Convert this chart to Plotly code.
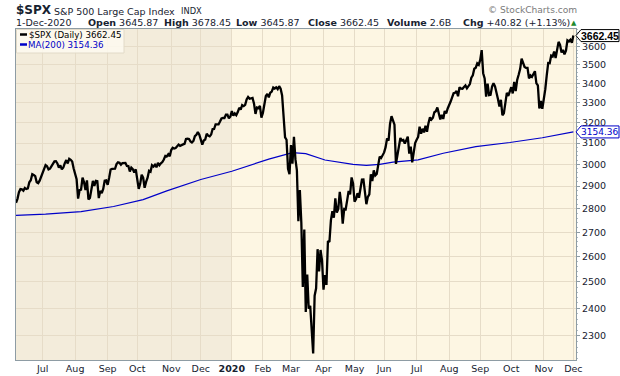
import math
import plotly.graph_objects as go

# ---------------- DATA ----------------
# $SPX daily closes, per month: (day, close)
spx_2019_06 = [(5,2826.15),(6,2843.49),(7,2873.34),(10,2886.73),(11,2885.72),(12,2879.84),(13,2891.64),(14,2886.98),(17,2889.67),(18,2917.75),(19,2926.46),(20,2954.18),(21,2950.46),(24,2945.35),(25,2917.38),(26,2913.78),(27,2924.92),(28,2941.76)]
spx_2019_07 = [(1,2964.33),(2,2973.01),(3,2995.82),(5,2990.41),(8,2975.95),(9,2979.63),(10,2993.07),(11,2999.91),(12,3013.77),(15,3014.30),(16,3004.04),(17,2984.42),(18,2995.11),(19,2976.61),(22,2985.03),(23,3005.47),(24,3019.56),(25,3003.67),(26,3025.86),(29,3020.97),(30,3013.18),(31,2980.38)]
spx_2019_08 = [(1,2953.56),(2,2932.05),(5,2844.74),(6,2881.77),(7,2883.98),(8,2938.09),(9,2918.65),(12,2882.70),(13,2926.32),(14,2840.60),(15,2847.60),(16,2888.68),(19,2923.65),(20,2900.51),(21,2924.43),(22,2922.95),(23,2847.11),(26,2878.38),(27,2869.16),(28,2887.94),(29,2924.58),(30,2926.46)]
spx_2019_09 = [(3,2906.27),(4,2937.78),(5,2976.00),(6,2978.71),(9,2978.43),(10,2979.39),(11,3000.93),(12,3009.57),(13,3007.39),(16,2997.96),(17,3005.70),(18,3006.73),(19,3006.79),(20,2992.07),(23,2991.78),(24,2966.60),(25,2984.87),(26,2977.62),(27,2961.79),(30,2976.74)]
spx_2019_10 = [(1,2940.25),(2,2887.61),(3,2910.63),(4,2952.01),(7,2938.79),(8,2893.06),(9,2919.40),(10,2938.13),(11,2970.27),(14,2966.15),(15,2995.68),(16,2989.69),(17,2997.95),(18,2986.20),(21,3006.72),(22,2995.99),(23,3004.52),(24,3010.29),(25,3022.55),(28,3039.42),(29,3036.89),(30,3046.77),(31,3037.56)]
spx_2019_11 = [(1,3066.91),(4,3078.27),(5,3074.62),(6,3076.78),(7,3085.18),(8,3093.08),(11,3087.01),(12,3091.84),(13,3094.04),(14,3096.63),(15,3120.46),(18,3122.03),(19,3120.18),(20,3108.46),(21,3103.54),(22,3110.29),(25,3133.64),(26,3140.52),(27,3153.63),(29,3140.98)]
spx_2019_12 = [(2,3113.87),(3,3093.20),(4,3112.76),(5,3117.43),(6,3145.91),(9,3135.96),(10,3132.52),(11,3141.63),(12,3168.57),(13,3168.80),(16,3191.45),(17,3192.52),(18,3191.14),(19,3205.37),(20,3221.22),(23,3224.01),(24,3223.38),(26,3239.91),(27,3240.02),(30,3221.29),(31,3230.78)]
spx_2020_01 = [(2,3257.85),(3,3234.85),(6,3246.28),(7,3237.18),(8,3253.05),(9,3274.70),(10,3265.35),(13,3288.13),(14,3283.15),(15,3289.29),(16,3316.81),(17,3329.62),(21,3320.79),(22,3321.75),(23,3325.54),(24,3295.47),(27,3243.63),(28,3276.24),(29,3273.40),(30,3283.66),(31,3225.52)]
spx_2020_02 = [(3,3248.92),(4,3297.59),(5,3334.69),(6,3345.78),(7,3327.71),(10,3352.09),(11,3357.75),(12,3379.45),(13,3373.94),(14,3380.16),(18,3370.29),(19,3386.15),(20,3373.23),(21,3337.75),(24,3225.89),(25,3128.21),(26,3116.39),(27,2978.76),(28,2954.22)]
spx_2020_03 = [(2,3090.23),(3,3003.37),(4,3130.12),(5,3023.94),(6,2972.37),(9,2746.56),(10,2882.23),(11,2741.38),(12,2480.64),(13,2711.02),(16,2386.13),(17,2529.19),(18,2398.10),(19,2409.39),(20,2304.92),(23,2237.40),(24,2447.33),(25,2475.56),(26,2630.07),(27,2541.47),(30,2626.65),(31,2584.59)]
spx_2020_04 = [(1,2470.50),(2,2526.90),(3,2488.65),(6,2663.68),(7,2659.41),(8,2749.98),(9,2789.82),(13,2761.63),(14,2846.06),(15,2783.36),(16,2799.55),(17,2874.56),(20,2823.16),(21,2736.56),(22,2799.31),(23,2797.80),(24,2836.74),(27,2878.48),(28,2863.39),(29,2939.51),(30,2912.43)]
spx_2020_05 = [(1,2830.71),(4,2842.74),(5,2868.44),(6,2848.42),(7,2881.19),(8,2929.80),(11,2930.32),(12,2870.12),(13,2820.00),(14,2852.50),(15,2863.70),(18,2953.91),(19,2922.94),(20,2971.61),(21,2948.51),(22,2955.45),(26,2991.77),(27,3036.13),(28,3029.73),(29,3044.31)]
spx_2020_06 = [(1,3055.73),(2,3080.82),(3,3122.87),(4,3112.35),(5,3193.93),(8,3232.39),(9,3207.18),(10,3190.14),(11,3002.10),(12,3041.31),(15,3066.59),(16,3124.74),(17,3113.49),(18,3115.34),(19,3097.74),(22,3117.86),(23,3131.29),(24,3050.33),(25,3083.76),(26,3009.05),(29,3053.24),(30,3100.29)]
spx_2020_07 = [(1,3115.86),(2,3130.01),(6,3179.72),(7,3145.32),(8,3169.94),(9,3152.05),(10,3185.04),(13,3155.22),(14,3197.52),(15,3226.56),(16,3215.57),(17,3224.73),(20,3251.84),(21,3257.30),(22,3276.02),(23,3235.66),(24,3215.63),(27,3239.41),(28,3218.44),(29,3258.44),(30,3246.22),(31,3271.12)]
spx_2020_08 = [(3,3294.61),(4,3306.51),(5,3327.77),(6,3349.16),(7,3351.28),(10,3360.47),(11,3333.69),(12,3380.35),(13,3373.43),(14,3372.85),(17,3381.99),(18,3389.78),(19,3374.85),(20,3385.51),(21,3397.16),(24,3431.28),(25,3443.62),(26,3478.73),(27,3484.55),(28,3508.01),(31,3500.31)]
spx_2020_09 = [(1,3526.65),(2,3580.84),(3,3455.06),(4,3426.96),(8,3331.84),(9,3398.96),(10,3339.19),(11,3340.97),(14,3383.54),(15,3401.20),(16,3385.49),(17,3357.01),(18,3319.47),(21,3281.06),(22,3315.57),(23,3236.92),(24,3246.59),(25,3298.46),(28,3351.60),(29,3335.47),(30,3363.00)]
spx_2020_10 = [(1,3380.80),(2,3348.42),(5,3408.60),(6,3360.97),(7,3419.44),(8,3446.83),(9,3477.14),(12,3534.22),(13,3511.93),(14,3488.67),(15,3483.34),(16,3483.81),(19,3426.92),(20,3443.12),(21,3435.56),(22,3453.49),(23,3465.39),(26,3400.97),(27,3390.68),(28,3271.03),(29,3310.11),(30,3269.96)]
spx_2020_11 = [(2,3310.24),(3,3369.16),(4,3443.44),(5,3510.45),(6,3509.44),(9,3550.50),(10,3545.53),(11,3572.66),(12,3537.01),(13,3585.15),(16,3626.91),(17,3609.53),(18,3567.79),(19,3581.87),(20,3557.54),(23,3577.59),(24,3635.41),(25,3629.65),(27,3638.35),(30,3621.63)]
spx_2020_12 = [(1,3662.45)]

# 200-day moving average
ma_dates = ["2019-06-05","2019-07-03","2019-08-07","2019-09-09","2019-10-07","2019-10-29","2019-12-02","2020-01-02",
            "2020-02-07","2020-03-03","2020-03-16","2020-04-02","2020-04-30","2020-05-13","2020-05-27","2020-06-09",
            "2020-07-02","2020-07-28","2020-08-27","2020-09-30","2020-10-30","2020-12-01"]
ma_values = [2772, 2777, 2788, 2810, 2840, 2879, 2930, 2968,
             3024, 3055, 3050, 3020, 3000, 2995, 3000, 3010,
             3021, 3052, 3083, 3103, 3126, 3154.36]

# Axis ticks
month_ticks = ["2019-07-01","2019-08-01","2019-09-03","2019-10-01","2019-11-01","2019-12-02","2020-01-02",
               "2020-02-03","2020-03-02","2020-04-01","2020-05-01","2020-06-01","2020-07-01","2020-08-03",
               "2020-09-01","2020-10-01","2020-11-02","2020-12-01"]
month_labels = ["Jul","Aug","Sep","Oct","Nov","Dec","<b>2020</b>","Feb","Mar","Apr","May","Jun","Jul","Aug",
                "Sep","Oct","Nov","Dec"]
price_ticks = [2300,2400,2500,2600,2700,2800,2900,3000,3100,3200,3300,3400,3500,3600]
market_holidays = ["2019-07-04","2019-09-02","2019-11-28","2019-12-25","2020-01-01","2020-01-20","2020-02-17",
                   "2020-04-10","2020-05-25","2020-07-03","2020-09-07","2020-11-26"]

last_close = 3662.45
last_ma = 3154.36
y_lo, y_hi = 2215, 3700

# ---------------- BUILD ----------------
months = [("2019-06", spx_2019_06), ("2019-07", spx_2019_07), ("2019-08", spx_2019_08), ("2019-09", spx_2019_09),
          ("2019-10", spx_2019_10), ("2019-11", spx_2019_11), ("2019-12", spx_2019_12), ("2020-01", spx_2020_01),
          ("2020-02", spx_2020_02), ("2020-03", spx_2020_03), ("2020-04", spx_2020_04), ("2020-05", spx_2020_05),
          ("2020-06", spx_2020_06), ("2020-07", spx_2020_07), ("2020-08", spx_2020_08), ("2020-09", spx_2020_09),
          ("2020-10", spx_2020_10), ("2020-11", spx_2020_11), ("2020-12", spx_2020_12)]
price_dates = [f"{m}-{d:02d}" for m, rows in months for d, _ in rows]
price_close = [v for m, rows in months for _, v in rows]

W, H = 620, 376
ML, MR, MT, MB = 16, 44, 29, 16
PW, PH = W - ML - MR, H - MT - MB

def px(x):
    return (x - ML) / PW

def py(y):
    return (H - MB - y) / PH

def val_frac(v):
    return (math.log10(v) - math.log10(y_lo)) / (math.log10(y_hi) - math.log10(y_lo))

TXT = "#172230"
FONT = "DejaVu Sans"

fig = go.Figure()
fig.add_trace(go.Scatter(x=ma_dates, y=ma_values, mode="lines",
                         line=dict(color="#0000c8", width=1.2), hoverinfo="skip"))
fig.add_trace(go.Scatter(x=price_dates, y=price_close, mode="lines",
                         line=dict(color="#000000", width=2.3), hoverinfo="skip"))

minor_vals = list(range(2220, 3720, 20))

fig.update_layout(
    width=W, height=H, margin=dict(l=ML, r=MR, t=MT, b=MB, autoexpand=False),
    paper_bgcolor="white", plot_bgcolor="#fdf6e3", showlegend=False,
    font=dict(family=FONT, size=9.5, color=TXT),
    xaxis=dict(type="date", range=["2019-06-05", "2020-12-02 19:00"], automargin=False,
               rangebreaks=[dict(bounds=["sat", "mon"]), dict(values=market_holidays)],
               tickmode="array", tickvals=month_ticks, ticktext=month_labels,
               showgrid=True, gridcolor="#e6dcc8", gridwidth=1,
               showline=True, linecolor="#8e9ca4", linewidth=1, mirror=True,
               ticks="", tickfont=dict(family=FONT, size=9.5, color=TXT), zeroline=False),
    yaxis=dict(type="log", side="right", automargin=False,
               range=[math.log10(y_lo), math.log10(y_hi)],
               tickmode="array", tickvals=price_ticks, ticktext=[str(v) for v in price_ticks],
               showgrid=True, gridcolor="#e6dcc8", gridwidth=1,
               showline=True, linecolor="#8e9ca4", linewidth=1, mirror=True,
               ticks="outside", ticklen=3, tickcolor="#8e9ca4",
               minor=dict(tickmode="array", tickvals=minor_vals, ticks="outside", ticklen=1,
                          tickcolor="#b0bcc2", showgrid=False),
               tickfont=dict(family=FONT, size=9.5, color=TXT), zeroline=False),
)

shapes = []
# darker 2019 background
shapes.append(dict(type="rect", xref="x", yref="paper", x0="2019-06-01", x1="2020-01-01",
                   y0=0, y1=1, fillcolor="#f3ecdb", line=dict(width=0), layer="below"))
# legend box
shapes.append(dict(type="rect", xref="paper", yref="paper", x0=px(16.5), x1=px(124), y0=py(53), y1=py(29.5),
                   fillcolor="rgba(253,250,240,0.85)", line=dict(color="#e2dac8", width=1), layer="above"))
shapes.append(dict(type="line", xref="paper", yref="paper", x0=px(20), x1=px(27), y0=py(34.5), y1=py(34.5),
                   line=dict(color="#000000", width=2.5)))
shapes.append(dict(type="line", xref="paper", yref="paper", x0=px(20), x1=px(27), y0=py(44.5), y1=py(44.5),
                   line=dict(color="#0000c8", width=2.5)))
# value tags on the right axis
tag_path = "M0,0 L5,6 L43,6 L43,-6 L5,-6 Z"
for v, col in [(last_close, "#000000"), (last_ma, "#0000c8")]:
    shapes.append(dict(type="path", xref="paper", yref="paper", xsizemode="pixel", ysizemode="pixel",
                       xanchor=1, yanchor=val_frac(v), path=tag_path,
                       fillcolor="white", line=dict(color=col, width=1), layer="above"))
fig.update_layout(shapes=shapes)

ann = []
def txt(x, y, text, size=9.5, color=TXT, anchor="left", family=FONT):
    ann.append(dict(xref="paper", yref="paper", x=px(x), y=py(y), text=text, showarrow=False,
                    xanchor=anchor, yanchor="middle", xshift=-1 if anchor == "left" else 1,
                    font=dict(family=family, size=size, color=color), borderpad=0))

# header line 1
txt(15.7, 10.5, "<b>$SPX</b>", size=12)
txt(54, 11, "S&P 500 Large Cap Index", size=9.5)
txt(181, 11, "INDX", size=8.3)
txt(577, 10.5, "© StockCharts.com", size=9.1, color="#7a7a7a", anchor="right")
# header line 2
txt(15.7, 22.5, "1-Dec-2020", size=9.5)
txt(88, 22.5, "<b>Open</b> 3645.87", size=9.5)
txt(164, 22.5, "<b>High</b> 3678.45", size=9.5)
txt(236, 22.5, "<b>Low</b> 3645.87", size=9.5)
txt(308, 22.5, "<b>Close</b> 3662.45", size=9.5)
txt(387, 22.5, "<b>Volume</b> 2.6B", size=9.5)
txt(462.7, 22.5, "<b>Chg</b> +40.82 (+1.13%)", size=9.5)
txt(571, 22.5, "▲", size=7, color="#1f8a2e")
# legend text
txt(29.3, 34.5, "$SPX (Daily) 3662.45", size=8.7, color="#000000")
txt(28.3, 44.5, "MA(200) 3154.36", size=8.7, color="#0000c8")

# tag texts
ann.append(dict(xref="paper", yref="paper", x=1, y=val_frac(last_close), text=f"<b>{last_close:.2f}</b>",
                showarrow=False, xanchor="left", yanchor="middle", xshift=4, borderpad=0,
                font=dict(family="Liberation Sans", size=10.5, color="#000000")))
ann.append(dict(xref="paper", yref="paper", x=1, y=val_frac(last_ma), text=f"{last_ma:.2f}",
                showarrow=False, xanchor="left", yanchor="middle", xshift=4, borderpad=0,
                font=dict(family=FONT, size=9, color="#0000c8")))
fig.update_layout(annotations=ann)

fig.write_html("out.html", config={"displayModeBar": False},
               post_script="document.body.style.margin='0';document.body.style.padding='0';")
